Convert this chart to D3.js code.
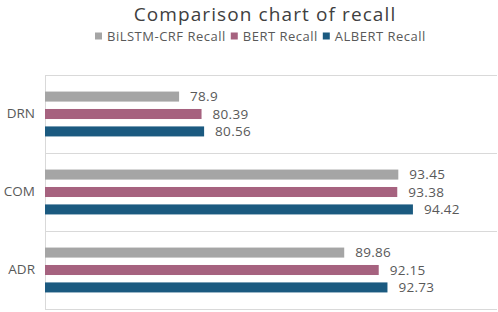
<!DOCTYPE html>
<html>
<head>
<meta charset="utf-8">
<script src="https://cdn.jsdelivr.net/npm/d3@7"></script>
<style>
  body { margin: 0; background: #fff; }
  svg { display: block; font-family: "Open Sans", "Noto Sans", sans-serif; }
</style>
</head>
<body>
<figure id="chart" style="margin:0"></figure>
<script>
// data
const categories = ["DRN", "COM", "ADR"];
const seriesNames = ["BiLSTM-CRF Recall", "BERT Recall", "ALBERT Recall"];
const bilstmValues = [78.9, 93.45, 89.86];
const bertValues = [80.39, 93.38, 92.15];
const albertValues = [80.56, 94.42, 92.73];
const seriesColors = ["#a5a5a5", "#a6627f", "#1b5a80"];

const seriesValues = [bilstmValues, bertValues, albertValues];

let dimensions = {
    width: 498,
    height: 312,
    margin: { top: 75, right: 1, bottom: 3, left: 45 }
};
dimensions.boundedWidth = dimensions.width - dimensions.margin.left - dimensions.margin.right;
dimensions.boundedHeight = dimensions.height - dimensions.margin.top - dimensions.margin.bottom;

const svg = d3.select("figure#chart")
    .append("svg")
    .attr("width", dimensions.width)
    .attr("height", dimensions.height);

// title
svg.append("text")
    .attr("x", 265)
    .attr("y", 21)
    .attr("text-anchor", "middle")
    .attr("font-size", 19)
    .attr("letter-spacing", 1.1)
    .attr("fill", "#404040")
    .text("Comparison chart of recall");

// legend
const legend = svg.append("g").attr("transform", "translate(0, 36)");
let lx = 95;
seriesNames.forEach((name, i) => {
    legend.append("rect")
        .attr("x", lx).attr("y", -3.5)
        .attr("width", 7).attr("height", 7)
        .attr("fill", seriesColors[i]);
    const t = legend.append("text")
        .attr("x", lx + 12)
        .attr("y", 0)
        .attr("dy", "0.35em")
        .attr("font-size", 13)
        .attr("letter-spacing", 0.5)
        .attr("fill", "#595959")
        .text(name);
    lx += 12 + t.node().getComputedTextLength() + 5;
});

const g = svg.append("g")
    .attr("transform", `translate(${dimensions.margin.left}, ${dimensions.margin.top})`);

const xScale = d3.scaleLinear()
    .domain([70, 100])
    .range([0, dimensions.boundedWidth]);

const yScale = d3.scaleBand()
    .domain(categories)
    .range([0, dimensions.boundedHeight])
    .padding(0);

const subScale = d3.scaleBand()
    .domain(d3.range(seriesNames.length))
    .range([0, yScale.bandwidth()])
    .paddingInner(0.425)
    .paddingOuter(0.95);

// grid lines (category boundaries)
const boundaries = categories.map(c => yScale(c)).concat([dimensions.boundedHeight]);
g.selectAll("line.grid")
    .data(boundaries)
    .join("line")
    .attr("class", "grid")
    .attr("x1", 0).attr("x2", dimensions.boundedWidth)
    .attr("y1", d => Math.round(d) + 0.5).attr("y2", d => Math.round(d) + 0.5)
    .attr("stroke", "#d9d9d9");

// left axis line
g.append("line")
    .attr("x1", 0.5).attr("x2", 0.5)
    .attr("y1", 0).attr("y2", dimensions.boundedHeight)
    .attr("stroke", "#d9d9d9");

// bars
const rows = [];
categories.forEach((c, ci) => {
    seriesValues.forEach((vals, si) => {
        rows.push({ cat: c, s: si, v: vals[ci] });
    });
});

g.selectAll("rect.bar")
    .data(rows)
    .join("rect")
    .attr("class", "bar")
    .attr("x", xScale(70))
    .attr("y", d => yScale(d.cat) + subScale(d.s))
    .attr("width", d => xScale(d.v) - xScale(70))
    .attr("height", subScale.bandwidth())
    .attr("fill", d => seriesColors[d.s]);

// value labels
g.selectAll("text.val")
    .data(rows)
    .join("text")
    .attr("class", "val")
    .attr("x", d => xScale(d.v) + 11)
    .attr("y", d => yScale(d.cat) + subScale(d.s) + subScale.bandwidth() / 2)
    .attr("dy", "0.35em")
    .attr("font-size", 13.5)
    .attr("letter-spacing", 0.3)
    .attr("fill", "#595959")
    .text(d => d.v);

// category axis
const yAxis = g.append("g")
    .call(d3.axisLeft(yScale).tickSize(0).tickPadding(10));
yAxis.select(".domain").remove();
yAxis.selectAll("text")
    .attr("font-size", 13.5)
    .attr("font-family", "\"Open Sans\", \"Noto Sans\", sans-serif")
    .attr("fill", "#595959");
</script>
</body>
</html>
